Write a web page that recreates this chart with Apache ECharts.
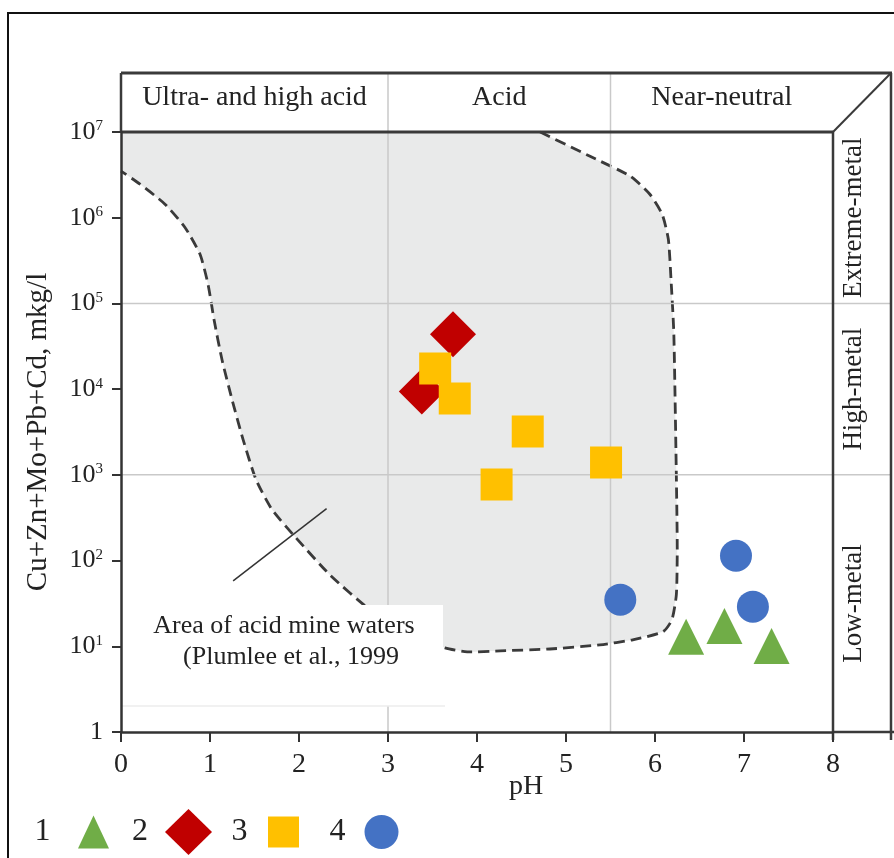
<!DOCTYPE html>
<html><head><meta charset="utf-8">
<script src="https://cdn.jsdelivr.net/npm/echarts@6/dist/echarts.min.js"></script>
<style>html,body{margin:0;padding:0;background:#fff}#c{width:894px;height:858px}</style>
</head><body><div id="c"></div>
<script>
const SERIF = '"Liberation Serif", "Times New Roman", serif';

// ---- data ----
const xTicks = [0, 1, 2, 3, 4, 5, 6, 7, 8];
const phBands = ['Ultra- and high acid', 'Acid', 'Near-neutral'];
const phBandEdges = [0, 3, 5.5, 8];
const metalBands = ['Low-metal', 'High-metal', 'Extreme-metal'];
const metalBandEdges = [1, 1e3, 1e5, 1e7];
const legendNames = ['1', '2', '3', '4'];
// [pH, Cu+Zn+Mo+Pb+Cd mkg/l]
const series1 = [[6.35, 12.9], [6.78, 17.3], [7.31, 10.1]];
const series2 = [[3.73, 43600], [3.38, 9400]];
const series3 = [[3.53, 17400], [3.75, 7800], [4.57, 3200], [4.22, 770], [5.45, 1390]];
const series4 = [[5.61, 35], [6.91, 114], [7.10, 29]];
// Area of acid mine waters (Plumlee et al., 1999) boundary, from top right clockwise to left axis
const amdBoundary = [
  [4.71, 1e7], [5.27, 5.2e6], [5.72, 3.06e6], [5.94, 1.89e6], [6.08, 1.1e6], [6.15, 5.6e5],
  [6.18, 1.9e5], [6.21, 5.0e4], [6.22, 1.7e4], [6.24, 955], [6.25, 138], [6.24, 40],
  [6.19, 20.4], [6.09, 14.8], [5.75, 11.9], [5.38, 10.4], [4.82, 9.3], [4.26, 8.85],
  [3.89, 8.6], [3.64, 9.6], [3.247, 13.6], [2.798, 26.7], [2.348, 68], [1.955, 190],
  [1.697, 393], [1.517, 880], [1.371, 2600], [1.247, 7600], [1.135, 2.2e4], [1.045, 6.5e4],
  [0.978, 1.67e5], [0.888, 3.74e5], [0.719, 7.7e5], [0.494, 1.44e6], [0.213, 2.47e6], [0, 3.5e6]
];
const amdCorner = [0, 1e7];
const leaderLine = [[1.26, 58], [2.31, 404]];
const annotationLines = ['Area of acid mine waters', '(Plumlee et al., 1999'];

const chart = echarts.init(document.getElementById('c'));

function yLabel(v) {
  const e = Math.round(Math.log10(v));
  return e === 0 ? '{b|1}' : '{b|10}{s|' + e + '}';
}

const option = {
  animation: false,
  backgroundColor: '#fff',
  grid: { left: 121, right: 61, top: 132, bottom: 126 },
  xAxis: {
    type: 'value', min: 0, max: 8, interval: 1, z: 6,
    axisLine: { show: true, lineStyle: { color: '#333', width: 2.5 } },
    axisTick: { show: true, length: 10, lineStyle: { color: '#333', width: 2 } },
    axisLabel: { fontFamily: SERIF, fontSize: 28, color: '#222', margin: 19 },
    splitLine: { show: false }
  },
  yAxis: {
    type: 'log', logBase: 10, min: 1, max: 1e7, splitNumber: 7, z: 6,
    name: 'Cu+Zn+Mo+Pb+Cd, mkg/l', nameLocation: 'middle', nameGap: 68,
    nameTextStyle: { fontFamily: SERIF, fontSize: 29, color: '#222' },
    axisLine: { show: true, lineStyle: { color: '#333', width: 2.5 } },
    axisTick: { show: true, length: 9, lineStyle: { color: '#333', width: 2 } },
    axisLabel: {
      margin: 18, formatter: yLabel,
      rich: {
        b: { fontFamily: SERIF, fontSize: 26, color: '#222' },
        s: { fontFamily: SERIF, fontSize: 15, color: '#222', verticalAlign: 'top' }
      }
    },
    splitLine: { show: false }
  },
  legend: [
    { data: [{ name: legendNames[0], icon: 'triangle' }], left: 34.5, top: 815.5, itemWidth: 31, itemHeight: 33, textPad: 22.5 },
    { data: [{ name: legendNames[1], icon: 'diamond' }], left: 132, top: 809, itemWidth: 47, itemHeight: 46, textPad: 12 },
    { data: [{ name: legendNames[2], icon: 'rect' }], left: 231.5, top: 816, itemWidth: 31, itemHeight: 31, textPad: 15.5 },
    { data: [{ name: legendNames[3], icon: 'circle' }], left: 329.5, top: 815, itemWidth: 35, itemHeight: 34, textPad: 13.5 }
  ].map(l => ({
    data: l.data, left: l.left, top: l.top, itemWidth: l.itemWidth, itemHeight: l.itemHeight,
    padding: 0, align: 'right', selectedMode: false, orient: 'horizontal',
    textStyle: { fontFamily: SERIF, fontSize: 32, color: '#222', padding: [0, l.textPad, 0, 0] }
  })),
  series: [
    {
      type: 'custom', name: 'amd', z: 1, silent: true,
      data: [[0, 1]],
      encode: { x: 0, y: 1 },
      renderItem: function (params, api) {
        const pts = amdBoundary.map(p => api.coord(p));
        const fillPts = [api.coord(amdCorner)].concat(pts);
        return {
          type: 'group',
          children: [
            { type: 'polygon', shape: { points: fillPts }, style: { fill: '#e9eaea', stroke: null } },
            { type: 'polyline', shape: { points: pts, smooth: 0.2 },
              style: { fill: null, stroke: '#3a3a3a', lineWidth: 2.8, lineDash: [11, 6] } }
          ]
        };
      }
    },
    {
      type: 'line', name: 'leader', z: 5, data: leaderLine, symbol: 'none', silent: true,
      lineStyle: { color: '#333', width: 1.5 }
    },
    { type: 'scatter', name: legendNames[0], z: 10, data: series1, symbol: 'triangle', symbolSize: 36, itemStyle: { color: '#70ad47', opacity: 1 } },
    { type: 'scatter', name: legendNames[1], z: 10, data: series2, symbol: 'diamond', symbolSize: 46, itemStyle: { color: '#c00000', opacity: 1 } },
    { type: 'scatter', name: legendNames[2], z: 11, data: series3, symbol: 'rect', symbolSize: 32, itemStyle: { color: '#ffc000', opacity: 1 } },
    { type: 'scatter', name: legendNames[3], z: 10, data: series4, symbol: 'circle', symbolSize: 32, itemStyle: { color: '#4472c4', opacity: 1 } }
  ]
};
chart.setOption(option);

// ---- frame, header and class bands, positioned from the axes ----
const P = (x, y) => chart.convertToPixel({ gridIndex: 0 }, [x, y]);
const x0 = P(0, 1e7)[0], x8 = P(8, 1e7)[0];
const yTop = P(0, 1e7)[1], yBot = P(0, 1)[1];
const headerTop = yTop - 59;
const rightEdge = x8 + 58;
const DARK = '#3a3a3a', GRID = '#c9c9c9';

function line(x1, y1, x2, y2, color, w, z) {
  return { type: 'line', silent: true, z: z, shape: { x1, y1, x2, y2 }, style: { stroke: color, lineWidth: w } };
}
function text(str, x, y, size, rot, z) {
  return { type: 'text', silent: true, z: z || 7, x: x, y: y, rotation: rot || 0,
    style: { text: str, fontFamily: SERIF, fontSize: size, fill: '#222', align: 'center', verticalAlign: 'middle' } };
}

const g = [];
g.push({ type: 'rect', silent: true, z: 0, shape: { x: 8, y: 13, width: 950, height: 950 }, style: { fill: null, stroke: '#111', lineWidth: 2 } });
// grid lines at class boundaries
phBandEdges.slice(1, 3).forEach(v => { const px = P(v, 1)[0]; g.push(line(px, headerTop, px, yBot, GRID, 1.5, 3)); });
metalBandEdges.slice(1, 3).forEach(v => { const py = P(0, v)[1]; g.push(line(x0, py, rightEdge, py, GRID, 1.5, 3)); });
// header box
g.push(line(x0, headerTop, rightEdge + 1, headerTop, DARK, 3, 6));
g.push(line(x0, yTop, x8, yTop, DARK, 3, 6));
g.push(line(x8, yTop, rightEdge, headerTop, DARK, 2, 6));
g.push(line(x0, headerTop, x0, yTop, DARK, 2.5, 6));
g.push(line(x8, yTop, x8, yBot + 8, DARK, 2.5, 6));
g.push(line(rightEdge, headerTop, rightEdge, yBot + 8, DARK, 2.5, 6));
g.push(line(x8, yBot, 900, yBot, DARK, 2.5, 6));
// header labels
phBands.forEach((t, i) => {
  const cx = (P(phBandEdges[i], 1)[0] + P(phBandEdges[i + 1], 1)[0]) / 2;
  g.push(text(t, cx, headerTop + 25, 28));
});
// metal class labels
metalBands.forEach((t, i) => {
  const cy = (P(0, metalBandEdges[i])[1] + P(0, metalBandEdges[i + 1])[1]) / 2;
  g.push(text(t, x8 + 21, cy, 27, Math.PI / 2));
});
// annotation box and text
g.push({ type: 'rect', silent: true, z: 4, shape: { x: 143, y: 605, width: 300, height: 101 }, style: { fill: '#fff', stroke: null } });
g.push(line(x0, 706, 445, 706, '#ececec', 1.5, 4));
g.push(text(annotationLines[0], 284, 626, 26, 0, 5));
g.push(text(annotationLines[1], 291, 657, 26, 0, 5));
// x axis name
g.push(text('pH', 526, 787, 28));

chart.setOption({ graphic: g });
</script>
</body></html>
